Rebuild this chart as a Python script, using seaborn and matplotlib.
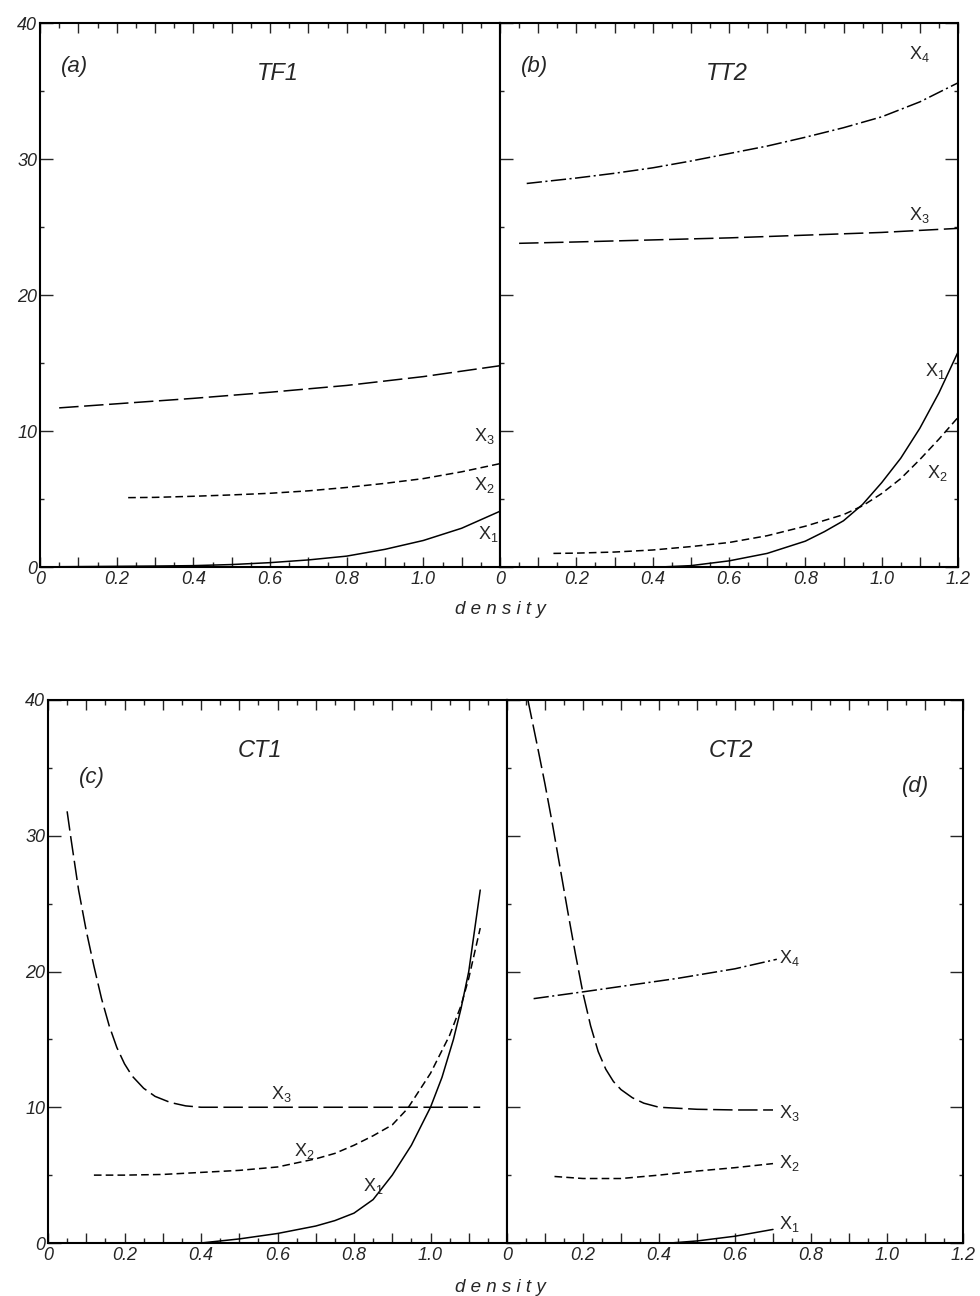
import matplotlib
matplotlib.use('Agg')
import matplotlib.pyplot as plt
import seaborn as sns
from matplotlib.ticker import MultipleLocator, FuncFormatter

# ---- data (density vs value) ----
# (a) TF1
a_x3_x = [0.05, 0.2, 0.4, 0.6, 0.8, 1.0, 1.2]
a_x3_y = [11.7, 12.0, 12.4, 12.85, 13.35, 14.0, 14.8]
a_x2_x = [0.23, 0.3, 0.4, 0.5, 0.6, 0.7, 0.8, 0.9, 1.0, 1.1, 1.2]
a_x2_y = [5.1, 5.12, 5.2, 5.3, 5.42, 5.6, 5.85, 6.15, 6.5, 7.0, 7.6]
a_x1_x = [0.05, 0.2, 0.3, 0.4, 0.5, 0.6, 0.7, 0.8, 0.9, 1.0, 1.1, 1.2]
a_x1_y = [0.02, 0.05, 0.07, 0.1, 0.18, 0.32, 0.52, 0.8, 1.3, 1.95, 2.85, 4.1]

# (b) TT2
b_x4_x = [0.07, 0.2, 0.3, 0.4, 0.5, 0.6, 0.7, 0.8, 0.9, 1.0, 1.1, 1.2]
b_x4_y = [28.2, 28.6, 28.95, 29.35, 29.85, 30.4, 30.95, 31.6, 32.3, 33.1, 34.2, 35.6]
b_x3_x = [0.05, 0.2, 0.4, 0.6, 0.8, 1.0, 1.2]
b_x3_y = [23.8, 23.9, 24.05, 24.2, 24.4, 24.6, 24.9]
b_x2_x = [0.14, 0.2, 0.3, 0.4, 0.5, 0.6, 0.7, 0.8, 0.9, 0.95, 1.0, 1.05, 1.1, 1.15, 1.2]
b_x2_y = [1.0, 1.02, 1.1, 1.25, 1.5, 1.8, 2.3, 3.0, 3.85, 4.5, 5.4, 6.5, 7.9, 9.4, 11.0]
b_x1_x = [0.42, 0.5, 0.6, 0.7, 0.8, 0.85, 0.9, 0.95, 1.0, 1.05, 1.1, 1.15, 1.2]
b_x1_y = [0.0, 0.1, 0.45, 1.0, 1.9, 2.6, 3.4, 4.6, 6.2, 8.0, 10.2, 12.8, 15.8]

# (c) CT1
c_x3_x = [0.05, 0.06, 0.08, 0.1, 0.12, 0.14, 0.16, 0.18, 0.2, 0.22, 0.25, 0.28,
          0.32, 0.36, 0.4, 0.6, 0.8, 1.0, 1.13]
c_x3_y = [31.8, 29.8, 26.0, 23.0, 20.4, 18.0, 16.0, 14.4, 13.2, 12.3, 11.4, 10.8,
          10.35, 10.1, 10.0, 10.0, 10.0, 10.0, 10.0]
c_x2_x = [0.12, 0.2, 0.3, 0.4, 0.5, 0.6, 0.7, 0.75, 0.8, 0.85, 0.9, 0.94, 1.0, 1.05, 1.08, 1.1, 1.13]
c_x2_y = [5.0, 5.0, 5.05, 5.2, 5.35, 5.6, 6.2, 6.6, 7.2, 7.9, 8.7, 9.9, 12.5, 15.3, 17.5, 19.5, 23.2]
c_x1_x = [0.4, 0.5, 0.6, 0.7, 0.75, 0.8, 0.85, 0.9, 0.95, 1.0, 1.03, 1.06, 1.08, 1.1, 1.13]
c_x1_y = [0.0, 0.3, 0.7, 1.25, 1.65, 2.2, 3.2, 5.0, 7.2, 10.0, 12.2, 15.0, 17.3, 20.0, 26.0]

# (d) CT2
d_x4_x = [0.07, 0.2, 0.3, 0.45, 0.6, 0.71]
d_x4_y = [18.0, 18.5, 18.9, 19.5, 20.2, 20.9]
d_x3_x = [0.055, 0.08, 0.1, 0.12, 0.14, 0.16, 0.18, 0.2, 0.22, 0.24, 0.26, 0.28,
          0.3, 0.33, 0.36, 0.4, 0.5, 0.6, 0.7]
d_x3_y = [40.0, 36.6, 33.8, 30.8, 27.6, 24.4, 21.3, 18.4, 16.0, 14.1, 12.8, 11.9,
          11.3, 10.7, 10.3, 10.0, 9.85, 9.8, 9.8]
d_x2_x = [0.125, 0.2, 0.3, 0.4, 0.5, 0.6, 0.7]
d_x2_y = [4.9, 4.75, 4.75, 5.0, 5.3, 5.55, 5.85]
d_x1_x = [0.43, 0.5, 0.6, 0.7]
d_x1_y = [0.0, 0.15, 0.5, 1.0]

# ---- style ----
sns.set_style('ticks')
plt.rcParams['font.family'] = ['Liberation Sans', 'DejaVu Sans']
plt.rcParams['font.style'] = 'italic'
plt.rcParams['mathtext.fontset'] = 'custom'
plt.rcParams['mathtext.rm'] = 'Liberation Sans:style=normal'
plt.rcParams['mathtext.default'] = 'rm'
plt.rcParams['lines.scale_dashes'] = False

LONG = (0, (14, 4))
SHORT = (0, (5.5, 3))
DASHDOT = (0, (11, 2.5, 1.5, 2.5))
SOLID = '-'

W, H = 980, 1296
fig = plt.figure(figsize=(W / 100, H / 100), dpi=100)


def px_axes(left, top, right, bottom):
    return fig.add_axes([left / W, 1 - bottom / H, (right - left) / W, (bottom - top) / H])


ax_a = px_axes(40, 23, 500, 567)
ax_b = px_axes(500, 23, 958, 567)
ax_c = px_axes(48, 700, 507, 1243)
ax_d = px_axes(507, 700, 963, 1243)


def curve(ax, x, y, ls):
    sns.lineplot(x=x, y=y, ax=ax, color='black', linewidth=1.1,
                 linestyle=ls, errorbar=None, sort=False)


def xfmt(hide_last):
    def f(v, pos):
        k = int(round(v * 10))
        if k % 2:
            return ''
        if k == 0:
            return '0'
        if hide_last and k == 12:
            return ''
        return f'{v:.1f}'
    return FuncFormatter(f)


def setup(ax, left_panel):
    ax.set_xlim(0, 1.2)
    ax.set_ylim(0, 40)
    ax.set_xlabel('')
    ax.set_ylabel('')
    ax.xaxis.set_major_locator(MultipleLocator(0.1))
    ax.xaxis.set_minor_locator(MultipleLocator(0.05))
    ax.yaxis.set_major_locator(MultipleLocator(10))
    ax.yaxis.set_minor_locator(MultipleLocator(5))
    ax.xaxis.set_major_formatter(xfmt(left_panel))
    ax.tick_params(axis='x', which='major', direction='in', length=7, width=1,
                   top=True, bottom=True, labelsize=13, pad=3)
    ax.tick_params(axis='x', which='minor', direction='in', length=3.5, width=1,
                   top=True, bottom=True)
    ax.tick_params(axis='y', which='major', direction='in', length=9.5, width=1,
                   left=True, right=not left_panel, labelleft=left_panel,
                   labelsize=13, pad=2)
    ax.tick_params(axis='y', which='minor', direction='in', length=3, width=1,
                   left=True, right=not left_panel)
    for s in ax.spines.values():
        s.set_visible(True)
        s.set_linewidth(1.5)
        s.set_color('black')


def xlab(ax, x, y, n, ha='center'):
    ax.text(x, y, 'X$_{%d}$' % n, fontsize=13, fontstyle='normal',
            ha=ha, va='center')


# (a)
curve(ax_a, a_x3_x, a_x3_y, LONG)
curve(ax_a, a_x2_x, a_x2_y, SHORT)
curve(ax_a, a_x1_x, a_x1_y, SOLID)
setup(ax_a, True)
ax_a.text(0.09, 36.8, '(a)', fontsize=16, ha='center', va='center')
ax_a.text(0.62, 36.3, 'TF1', fontsize=17, ha='center', va='center')
xlab(ax_a, 1.16, 9.6, 3)
xlab(ax_a, 1.16, 6.0, 2)
xlab(ax_a, 1.17, 2.4, 1)

# (b)
curve(ax_b, b_x4_x, b_x4_y, DASHDOT)
curve(ax_b, b_x3_x, b_x3_y, LONG)
curve(ax_b, b_x2_x, b_x2_y, SHORT)
curve(ax_b, b_x1_x, b_x1_y, SOLID)
setup(ax_b, False)
ax_b.text(0.09, 36.8, '(b)', fontsize=16, ha='center', va='center')
ax_b.text(0.595, 36.3, 'TT2', fontsize=17, ha='center', va='center')
xlab(ax_b, 1.10, 37.7, 4)
xlab(ax_b, 1.10, 25.9, 3)
xlab(ax_b, 1.14, 14.4, 1)
xlab(ax_b, 1.145, 6.9, 2)

# (c)
curve(ax_c, c_x3_x, c_x3_y, LONG)
curve(ax_c, c_x2_x, c_x2_y, SHORT)
curve(ax_c, c_x1_x, c_x1_y, SOLID)
setup(ax_c, True)
ax_c.text(0.115, 34.3, '(c)', fontsize=16, ha='center', va='center')
ax_c.text(0.555, 36.3, 'CT1', fontsize=17, ha='center', va='center')
xlab(ax_c, 0.61, 11.0, 3)
xlab(ax_c, 0.67, 6.8, 2)
xlab(ax_c, 0.85, 4.2, 1)

# (d)
curve(ax_d, d_x4_x, d_x4_y, DASHDOT)
curve(ax_d, d_x3_x, d_x3_y, LONG)
curve(ax_d, d_x2_x, d_x2_y, SHORT)
curve(ax_d, d_x1_x, d_x1_y, SOLID)
setup(ax_d, False)
ax_d.text(1.076, 33.6, '(d)', fontsize=16, ha='center', va='center')
ax_d.text(0.59, 36.3, 'CT2', fontsize=17, ha='center', va='center')
xlab(ax_d, 0.715, 21.0, 4, ha='left')
xlab(ax_d, 0.715, 9.6, 3, ha='left')
xlab(ax_d, 0.715, 5.9, 2, ha='left')
xlab(ax_d, 0.715, 1.4, 1, ha='left')

fig.text(500 / W, 1 - 610 / H, 'd e n s i t y', ha='center', va='center', fontsize=13.5)
fig.text(500 / W, 1 - 1288 / H, 'd e n s i t y', ha='center', va='center', fontsize=13.5)

fig.savefig('out.png', dpi=100)
